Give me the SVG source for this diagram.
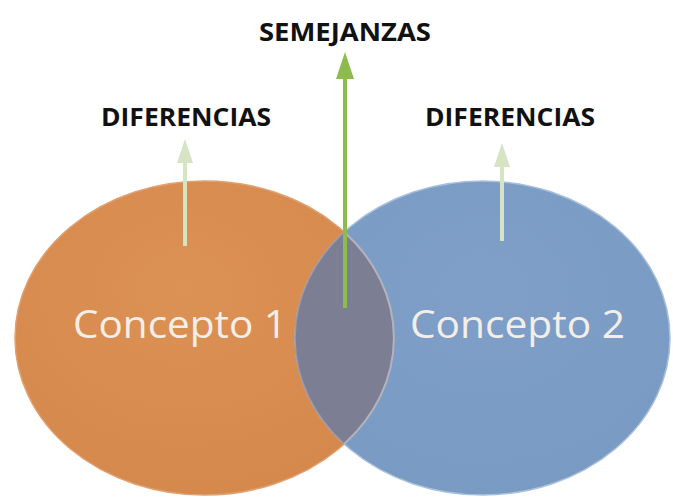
<svg xmlns="http://www.w3.org/2000/svg" width="673" height="500" viewBox="0 0 673 500">
<style>
.lbl{font-family:"Open Sans","Liberation Sans",sans-serif;font-weight:bold;font-size:25px;fill:#111;text-anchor:middle}
.con{font-family:"Open Sans","Liberation Sans",sans-serif;font-size:38px;fill:#F4EEE8;text-anchor:middle}
</style>
<defs>
<clipPath id="clipO"><ellipse cx="204.5" cy="338" rx="189.5" ry="157"/></clipPath>
<radialGradient id="gO" cx="0.45" cy="0.35" r="0.7">
<stop offset="0" stop-color="#DC9155"/><stop offset="1" stop-color="#D5884B"/>
</radialGradient>
<radialGradient id="gB" cx="0.5" cy="0.35" r="0.7">
<stop offset="0" stop-color="#7F9FC8"/><stop offset="1" stop-color="#789AC3"/>
</radialGradient>
</defs>
<rect width="673" height="500" fill="#fff"/>
<g id="concepto1">
<ellipse cx="204.5" cy="338" rx="189.5" ry="157" fill="url(#gO)" stroke="#E0A070" stroke-width="1.5"/>
</g>
<g id="concepto2">
<ellipse cx="482.5" cy="338" rx="187.5" ry="157" fill="url(#gB)" stroke="#A9C0DC" stroke-width="1.5"/>
</g>
<g id="interseccion">
<ellipse cx="482.5" cy="338" rx="187.5" ry="157" fill="#7C7F93" clip-path="url(#clipO)"/>
<path d="M344.2,232 A187.5,157 0 0 0 344.2,444" fill="none" stroke="#9E9AA6" stroke-width="1.5"/>
<path d="M344.2,232 A189.5,157 0 0 1 344.2,444" fill="none" stroke="#B4B2BC" stroke-width="2"/>
</g>
<g id="texto1"><text class="con" x="180" y="338" textLength="214" lengthAdjust="spacingAndGlyphs">Concepto 1</text></g>
<g id="texto2"><text class="con" x="517.5" y="338" textLength="215" lengthAdjust="spacingAndGlyphs">Concepto 2</text></g>
<g id="connectors">
<line x1="185" y1="246" x2="185" y2="162" stroke="#D6E4C4" stroke-width="4"/>
<path d="M177,163 L185,139 L193,163 z" fill="#D6E4C4"/>
<line x1="502" y1="241" x2="502" y2="166" stroke="#D6E4C4" stroke-width="4"/>
<path d="M494,167 L502,143 L510,167 z" fill="#D6E4C4"/>
<line x1="345" y1="308" x2="345" y2="78" stroke="#8DBB50" stroke-width="4"/>
<path d="M336,79 L345,52 L354,79 z" fill="#8DBB50"/>
</g>
<g id="semejanzas"><text class="lbl" x="345" y="41" textLength="172" lengthAdjust="spacingAndGlyphs">SEMEJANZAS</text></g>
<g id="diferencias1"><text class="lbl" x="186" y="126" textLength="170" lengthAdjust="spacingAndGlyphs">DIFERENCIAS</text></g>
<g id="diferencias2"><text class="lbl" x="510" y="126" textLength="170" lengthAdjust="spacingAndGlyphs">DIFERENCIAS</text></g>
</svg>
